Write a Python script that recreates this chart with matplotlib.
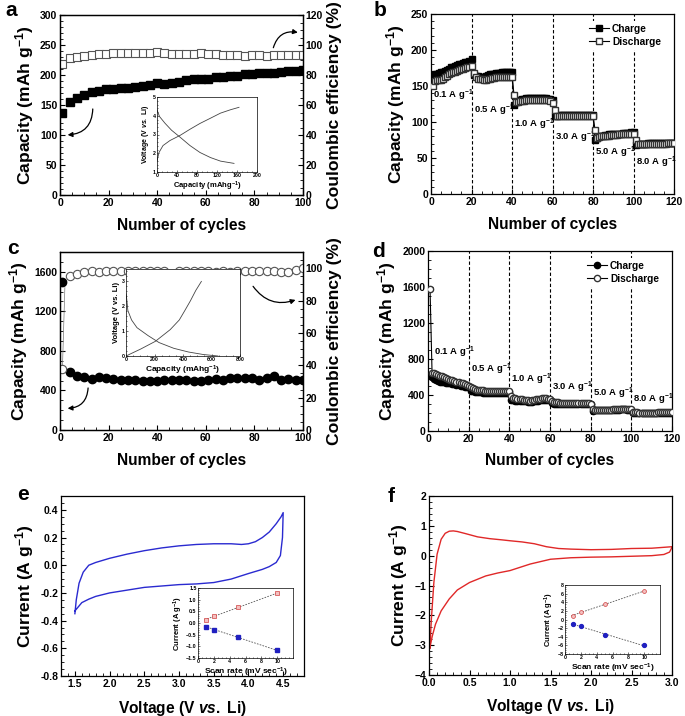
import numpy as np
import matplotlib
matplotlib.use("Agg")
import matplotlib.pyplot as plt

plt.rcParams['font.family'] = ['Liberation Sans', 'DejaVu Sans']
plt.rcParams['font.weight'] = 'bold'
plt.rcParams['axes.labelweight'] = 'bold'
plt.rcParams['mathtext.fontset'] = 'custom'
plt.rcParams['mathtext.rm'] = 'Liberation Sans:bold'
plt.rcParams['mathtext.bf'] = 'Liberation Sans:bold'
plt.rcParams['mathtext.it'] = 'Liberation Sans:bold:italic'
plt.rcParams['mathtext.default'] = 'bf'
plt.rcParams['xtick.direction'] = 'in'
plt.rcParams['ytick.direction'] = 'in'
plt.rcParams['axes.linewidth'] = 0.9

# ---- panel a : cathode cycling
cyc_a = np.arange(1, 101, 3)
cap_a = [137, 155, 162, 167, 171, 174, 176, 177, 178, 179, 180, 182, 184, 186, 185, 187, 189,
         192, 193, 193, 193, 196, 197, 198, 198, 201, 201, 203, 203, 204, 205, 206, 206, 209]
ce_a = [87.3, 91.5, 92, 92.8, 93.5, 94, 94.3, 94.5, 94.7, 94.7, 94.7, 94.5, 94.5, 95.2, 94.7, 94.2,
        94.2, 94.0, 94.0, 94.8, 94.0, 93.7, 93.5, 93.3, 93.2, 93.0, 93.2, 93.2, 93.0, 93.5, 93.5,
        93.5, 93.3, 93.2]
ins_a_dis_x = [0, 5, 16, 29, 46, 66, 86, 107, 127, 154]
ins_a_dis_y = [4.32, 3.96, 3.6, 3.23, 2.86, 2.41, 2.04, 1.77, 1.58, 1.46]
ins_a_chg_x = [0, 4, 12, 26, 46, 66, 86, 107, 127, 147, 164]
ins_a_chg_y = [1.58, 2.04, 2.41, 2.68, 2.95, 3.28, 3.59, 3.87, 4.14, 4.32, 4.45]

# ---- panel b : cathode rate
cyc_b = np.arange(1, 121)
chg_b = [165, 166, 167, 168, 169, 170, 171, 172, 174, 176, 177, 178, 179, 180, 181, 182, 183, 184, 185, 187,
         165, 164, 164, 163, 163, 163, 164, 165, 166, 167, 167, 168, 168, 168, 169, 169, 169, 170, 170, 170,
         124, 128, 130, 131, 132, 132, 133, 133, 133, 133, 133, 133, 133, 133, 133, 133, 133, 132, 132, 131,
         108, 109, 110, 110, 110, 110, 110, 110, 110, 110, 110, 110, 110, 110, 110, 110, 110, 110, 110, 110,
         75, 78, 80, 81, 81, 82, 82, 83, 83, 83, 84, 84, 84, 84, 85, 85, 85, 85, 86, 86,
         68, 70, 70, 70, 70, 70, 71, 71, 71, 71, 71, 71, 71, 71, 71, 71, 71, 71, 71, 71]
dis_b = [150, 157, 158, 158, 159, 160, 162, 164, 166, 168, 169, 170, 171, 172, 173, 174, 175, 176, 177, 178,
         168, 162, 160, 160, 160, 159, 159, 160, 160, 161, 161, 162, 162, 162, 163, 163, 163, 163, 163, 163,
         138, 128, 128, 129, 129, 129, 130, 130, 130, 130, 130, 130, 130, 130, 130, 130, 130, 130, 129, 127,
         116, 108, 108, 108, 108, 108, 108, 108, 108, 108, 108, 108, 108, 108, 108, 109, 109, 109, 109, 109,
         89, 78, 79, 80, 80, 81, 81, 81, 82, 82, 82, 82, 83, 83, 83, 83, 84, 84, 84, 84,
         75, 69, 69, 69, 69, 69, 69, 70, 70, 70, 70, 70, 70, 70, 70, 70, 71, 71, 71, 71]
rate_labels = ['0.1', '0.5', '1.0', '3.0', '5.0', '8.0']
rate_x = [1, 21, 41, 61, 81, 101]
rate_y_b = [133, 112, 93, 75, 54, 40]

# ---- panel c : anode cycling
cyc_c = np.arange(1, 101, 3)
cap_c = [1500, 590, 550, 540, 520, 535, 525, 520, 505, 510, 505, 500, 495, 495, 505, 510, 510,
         505, 495, 495, 505, 515, 510, 530, 530, 525, 530, 510, 530, 550, 510, 515, 505, 510]
ce_c = [38, 95, 96.5, 97.5, 98, 97.5, 98, 98, 98, 98, 98, 98, 98, 98, 98,
        95.5, 98, 98, 98, 98, 98.5, 97.5, 98, 97.5, 98, 98, 98, 98, 98,
        98, 97.5, 97.5, 99, 100]
ce_c_first_x = [1, 2]
ce_c_first_y = [38, 88]
ins_c_dis_x = [0, 5, 13, 39, 77, 155, 232, 335, 439, 542, 645]
ins_c_dis_y = [2.5, 2.3, 1.83, 1.45, 1.14, 0.82, 0.54, 0.31, 0.16, 0.06, 0.0]
ins_c_chg_x = [0, 103, 206, 310, 374, 413, 452, 490, 529]
ins_c_chg_y = [0.0, 0.28, 0.59, 1.06, 1.45, 1.83, 2.22, 2.64, 3.0]

# ---- panel d : anode rate
cyc_d = np.arange(1, 121)
dis_d = [1580, 640, 650, 630, 620, 615, 610, 600, 590, 580, 570, 565, 560, 550, 540, 535, 530, 520, 515, 500,
         490, 475, 465, 460, 458, 455, 452, 450, 448, 446, 444, 442, 440, 440, 440, 440, 440, 442, 445, 450,
         390, 370, 362, 358, 355, 352, 350, 345, 340, 338, 340, 348, 355, 358, 360, 362, 362, 362, 360, 355,
         330, 322, 320, 318, 316, 315, 315, 315, 315, 315, 315, 314, 314, 313, 312, 312, 311, 310, 308, 305,
         250, 235, 232, 232, 233, 234, 235, 236, 237, 238, 239, 240, 241, 242, 243, 244, 244, 243, 242, 240,
         215, 208, 206, 205, 205, 205, 205, 205, 205, 205, 205, 205, 206, 206, 206, 206, 207, 207, 208, 208]
chg_d = [610, 600, 580, 565, 555, 548, 545, 542, 538, 533, 528, 522, 517, 512, 507, 502, 498, 494, 490, 487,
         450, 440, 435, 432, 430, 428, 426, 424, 422, 420, 420, 420, 420, 420, 420, 420, 420, 422, 425, 430,
         350, 342, 338, 335, 333, 332, 330, 328, 326, 325, 326, 330, 335, 338, 340, 342, 343, 343, 342, 340,
         310, 305, 304, 303, 302, 302, 302, 302, 302, 302, 302, 301, 301, 300, 300, 300, 299, 299, 298, 297,
         225, 228, 228, 229, 230, 231, 232, 233, 234, 235, 236, 237, 238, 238, 239, 239, 239, 238, 237, 236,
         205, 203, 202, 202, 202, 202, 202, 202, 202, 202, 202, 202, 203, 203, 203, 203, 204, 204, 205, 205]
rate_x_d = [3, 21, 41, 61, 81, 101]
rate_y_d = [840, 650, 540, 450, 390, 320]

# ---- panel e : cathode CV
cv_e_v = [1.5, 1.52, 1.56, 1.62, 1.7, 1.8, 2.0, 2.25, 2.5, 2.75, 3.0, 3.25, 3.5, 3.75, 3.9, 4.0, 4.1,
          4.2, 4.3, 4.4, 4.47, 4.5,
          4.5, 4.49, 4.46, 4.4, 4.3, 4.2, 4.0, 3.75, 3.5, 3.25, 3.0, 2.75, 2.5, 2.25, 2.0, 1.8, 1.7,
          1.6, 1.55, 1.5]
cv_e_i = [-0.35, -0.25, -0.13, -0.05, 0.0, 0.02, 0.05, 0.08, 0.105, 0.125, 0.14, 0.15, 0.155, 0.155,
          0.15, 0.155, 0.17, 0.2, 0.24, 0.3, 0.35, 0.38,
          0.38, 0.2, 0.07, 0.02, -0.01, -0.03, -0.06, -0.1, -0.125, -0.135, -0.14, -0.15, -0.16, -0.18,
          -0.2, -0.225, -0.245, -0.27, -0.3, -0.33]
scan = [1, 2, 5, 10]
peak_e_ox = [0.13, 0.3, 0.68, 1.27]
peak_e_red = [-0.15, -0.28, -0.62, -1.17]

# ---- panel f : anode CV
cv_f_v = [0.01, 0.03, 0.06, 0.1, 0.15, 0.2, 0.25, 0.3, 0.35, 0.45, 0.6, 0.75, 0.9, 1.0, 1.15, 1.3,
          1.45, 1.6, 1.75, 2.0, 2.25, 2.5, 2.75, 2.9, 3.0,
          3.0, 2.97, 2.9, 2.75, 2.5, 2.25, 2.0, 1.75, 1.5, 1.25, 1.0, 0.85, 0.7, 0.5, 0.35, 0.25,
          0.15, 0.08, 0.04, 0.01]
cv_f_i = [-3.1, -2.1, -0.9, 0.05, 0.55, 0.75, 0.82, 0.83, 0.81, 0.74, 0.63, 0.57, 0.53, 0.5, 0.46,
          0.4, 0.3, 0.24, 0.22, 0.2, 0.21, 0.24, 0.25, 0.28, 0.3,
          0.28, 0.12, 0.04, 0.0, -0.02, -0.04, -0.05, -0.07, -0.12, -0.28, -0.5, -0.58, -0.68, -0.9,
          -1.15, -1.45, -1.85, -2.3, -2.7, -3.1]
peak_f_ox = [0.8, 1.7, 3.7, 6.5]
peak_f_red = [-1.0, -1.6, -3.6, -6.0]

W, H = 685, 716


def box(l, t, r, b):
    return [l / W, 1 - b / H, (r - l) / W, (b - t) / H]


def style(ax, size=7.5):
    ax.minorticks_on()
    ax.tick_params(which='both', top=False, right=False, labelsize=size, pad=2)
    ax.tick_params(which='major', length=3.5, width=0.8)
    ax.tick_params(which='minor', length=2, width=0.6)


def style_right(ax2):
    ax2.minorticks_on()
    ax2.tick_params(which='both', labelsize=7.5, pad=2, direction='in')
    ax2.tick_params(which='major', length=3.5, width=0.8)
    ax2.tick_params(which='minor', length=2, width=0.6)


def style_inset(ax):
    ax.minorticks_on()
    ax.tick_params(which='both', labelsize=3.8, pad=1, length=1.5, width=0.4)
    ax.tick_params(which='minor', length=0.8)
    for s in ax.spines.values():
        s.set_linewidth(0.5)


def arrow(ax, tip, tail, rad):
    ax.annotate('', xy=tip, xytext=tail,
                arrowprops=dict(arrowstyle='-|>', color='black', lw=0.9, mutation_scale=7,
                                connectionstyle=f'arc3,rad={rad}'))


fig = plt.figure(figsize=(W / 100, H / 100), dpi=100)
xl = 11.2
yl = 12.6
cap_label = r'Capacity (mAh g$^{-1}$)'
cur_label = r'Current (A g$^{-1}$)'
volt_label = r'Voltage (V $\it{vs.}$ Li)'

# ===== a
ax = fig.add_axes(box(60, 15, 303, 195))
ax.plot(cyc_a, cap_a, 's', color='black', ms=6)
ax.set_xlim(0, 100)
ax.set_ylim(0, 300)
ax.set_xticks(range(0, 101, 20))
ax.set_yticks(range(0, 301, 50))
style(ax)
ax.set_xlabel('Number of cycles', fontsize=xl, labelpad=7)
ax.set_ylabel(cap_label, fontsize=yl, labelpad=3)
ax2 = ax.twinx()
ax2.plot(cyc_a, ce_a, 's', mfc='white', mec='#555555', mew=0.8, ms=6)
ax2.set_ylim(0, 120)
ax2.set_yticks(range(0, 121, 20))
style_right(ax2)
ax2.set_ylabel('Coulombic efficiency (%)', fontsize=yl, labelpad=3)
arrow(ax, (2, 100), (13.5, 148), -0.5)
arrow(ax, (99, 270), (87.5, 241), -0.5)
fig.text(5 / W, 1 - 16 / H, 'a', fontsize=15, fontweight='bold')

ia = fig.add_axes(box(157, 97, 257, 172))
ia.plot(ins_a_dis_x, ins_a_dis_y, color='#444444', lw=0.6)
ia.plot(ins_a_chg_x, ins_a_chg_y, color='#444444', lw=0.6)
ia.set_xlim(0, 200)
ia.set_ylim(1, 5)
ia.set_xticks(range(0, 201, 40))
ia.set_yticks(range(1, 6))
style_inset(ia)
ia.set_xlabel(r'Capacity (mAhg$^{-1}$)', fontsize=5.5, labelpad=1)
ia.set_ylabel(volt_label, fontsize=5, labelpad=1)

# ===== b
ax = fig.add_axes(box(431, 14, 674, 194))
for xv in [20, 40, 60, 80, 100]:
    ax.axvline(xv, color='black', ls=(0, (3, 2)), lw=0.8, zorder=1)
ax.plot(cyc_b, chg_b, '-s', color='black', ms=4.5, lw=0.8, label='Charge', zorder=3)
ax.plot(cyc_b, dis_b, '-s', color='black', mfc='white', mec='#333333', ms=4.5, lw=0.8,
        label='Discharge', zorder=4)
for t, xv, yv in zip(rate_labels, rate_x, rate_y_b):
    ax.text(xv, yv, t + r' A g$^{-1}$', fontsize=6.8, fontweight='bold')
ax.set_xlim(0, 120)
ax.set_ylim(0, 250)
ax.set_xticks(range(0, 121, 20))
ax.set_yticks(range(0, 251, 50))
style(ax)
leg = ax.legend(loc='upper right', fontsize=7.3, frameon=True, handlelength=2, borderpad=0.3,
                labelspacing=0.3, handletextpad=0.3, bbox_to_anchor=(0.98, 0.99))
leg.get_frame().set_edgecolor('none')
leg.get_frame().set_alpha(1)
ax.set_xlabel('Number of cycles', fontsize=xl, labelpad=7)
ax.set_ylabel(cap_label, fontsize=yl, labelpad=3)
fig.text(374 / W, 1 - 16 / H, 'b', fontsize=15, fontweight='bold')

# ===== c
ax = fig.add_axes(box(60, 252, 303, 430))
ax.plot(cyc_c, cap_c, 'o', color='black', ms=6)
ax.set_xlim(0, 100)
ax.set_ylim(0, 1800)
ax.set_xticks(range(0, 101, 20))
ax.set_yticks(range(0, 1601, 400))
style(ax)
ax.set_xlabel('Number of cycles', fontsize=xl, labelpad=7)
ax.set_ylabel(cap_label, fontsize=yl, labelpad=3)
ax2 = ax.twinx()
ax2.plot(ce_c_first_x, ce_c_first_y, color='#777777', lw=0.5)
ax2.plot(cyc_c, ce_c, 'o', mfc='white', mec='#555555', mew=0.8, ms=6)
ax2.set_ylim(0, 110)
ax2.set_yticks(range(0, 101, 20))
style_right(ax2)
ax2.set_ylabel('Coulombic efficiency (%)', fontsize=yl, labelpad=3)
arrow(ax, (2, 218), (11.6, 453), -0.5)
arrow(ax, (98, 1325), (78.8, 1476), 0.4)
fig.text(7 / W, 1 - 254 / H, 'c', fontsize=15, fontweight='bold')

ic = fig.add_axes(box(126, 269, 240, 356))
ic.plot(ins_c_dis_x, ins_c_dis_y, color='#444444', lw=0.6)
ic.plot(ins_c_chg_x, ins_c_chg_y, color='#444444', lw=0.6)
ic.set_xlim(0, 800)
ic.set_ylim(0, 3.5)
ic.set_xticks(range(0, 801, 200))
ic.set_yticks(range(0, 4))
style_inset(ic)
ic.set_xlabel(r'Capacity (mAhg$^{-1}$)', fontsize=6, labelpad=1)
ic.set_ylabel('Voltage (V vs. Li)', fontsize=5.5, labelpad=1)

# ===== d
ax = fig.add_axes(box(428, 251, 672, 431))
for xv in [20, 40, 60, 80, 100]:
    ax.axvline(xv, color='black', ls=(0, (3, 2)), lw=0.8, zorder=1)
ax.plot(cyc_d, chg_d, '-o', color='black', ms=4.5, lw=0.8, label='Charge', zorder=3)
ax.plot(cyc_d, dis_d, '-o', color='black', mfc='white', mec='#333333', ms=4.5, lw=0.8,
        label='Discharge', zorder=4)
for t, xv, yv in zip(rate_labels, rate_x_d, rate_y_d):
    ax.text(xv, yv, t + r' A g$^{-1}$', fontsize=6.8, fontweight='bold')
ax.set_xlim(0, 120)
ax.set_ylim(0, 2000)
ax.set_xticks(range(0, 121, 20))
ax.set_yticks(range(0, 2001, 400))
style(ax)
leg = ax.legend(loc='upper right', fontsize=7.3, frameon=True, handlelength=2, borderpad=0.3,
                labelspacing=0.3, handletextpad=0.3, bbox_to_anchor=(0.98, 0.99))
leg.get_frame().set_edgecolor('none')
leg.get_frame().set_alpha(1)
ax.set_xlabel('Number of cycles', fontsize=xl, labelpad=7)
ax.set_ylabel(cap_label, fontsize=yl, labelpad=3)
fig.text(372 / W, 1 - 257 / H, 'd', fontsize=15, fontweight='bold')

# ===== e
ax = fig.add_axes(box(61, 496, 304, 676))
ax.plot(cv_e_v, cv_e_i, color='#2a2ad0', lw=1.0)
ax.set_xlim(1.3, 4.8)
ax.set_ylim(-0.8, 0.5)
ax.set_xticks(np.arange(1.5, 4.6, 0.5))
e_ticks = np.round(np.arange(-0.8, 0.41, 0.2), 1)
ax.set_yticks(e_ticks)
ax.set_yticklabels([f'{v:.1f}' for v in e_ticks + 0.0])
style(ax)
ax.set_xlabel(volt_label, fontsize=xl, labelpad=7)
ax.set_ylabel(cur_label, fontsize=yl, labelpad=3)
fig.text(17 / W, 1 - 500 / H, 'e', fontsize=15, fontweight='bold')

ie = fig.add_axes(box(198, 588, 293, 658))
sx = np.array(scan)
for vals in (peak_e_ox, peak_e_red):
    k, b0 = np.polyfit(sx, vals, 1)
    ie.plot([0.8, 10], [k * 0.8 + b0, k * 10 + b0], ls=(0, (2, 1.5)), color='#555555', lw=0.6)
ie.plot(scan, peak_e_ox, 's', mfc='#f4c0c0', mec='#d04040', ms=2.5, mew=0.5)
ie.plot(scan, peak_e_red, 's', color='#2020c0', ms=2.5)
ie.set_xlim(0, 12)
ie.set_ylim(-1.5, 1.5)
ie.set_xticks(range(0, 11, 2))
ie.set_yticks(np.arange(-1.5, 1.6, 0.5))
style_inset(ie)
ie.set_xlabel(r'Scan rate (mV sec$^{-1}$)', fontsize=6, labelpad=1)
ie.set_ylabel(cur_label, fontsize=5.5, labelpad=1)

# ===== f
ax = fig.add_axes(box(429, 496, 672, 675))
ax.plot(cv_f_v, cv_f_i, color='#e02828', lw=1.0)
ax.set_xlim(0, 3)
ax.set_ylim(-4, 2)
ax.set_xticks(np.arange(0, 3.1, 0.5))
ax.set_yticks(range(-4, 3))
style(ax)
ax.set_xlabel(volt_label, fontsize=xl, labelpad=7)
ax.set_ylabel(cur_label, fontsize=yl, labelpad=3)
fig.text(388 / W, 1 - 502 / H, 'f', fontsize=15, fontweight='bold')

iff = fig.add_axes(box(565, 585, 660, 654))
for vals in (peak_f_ox, peak_f_red):
    k, b0 = np.polyfit(sx, vals, 1)
    iff.plot([0.8, 10], [k * 0.8 + b0, k * 10 + b0], ls=(0, (2, 1.5)), color='#555555', lw=0.6)
iff.plot(scan, peak_f_ox, 'o', mfc='#f4c0c0', mec='#d04040', ms=2.8, mew=0.5)
iff.plot(scan, peak_f_red, 'o', color='#2020c0', ms=2.8)
iff.set_xlim(0, 12)
iff.set_ylim(-8, 8)
iff.set_xticks(range(0, 11, 2))
iff.set_yticks(range(-8, 9, 2))
style_inset(iff)
iff.set_xlabel(r'Scan rate (mV sec$^{-1}$)', fontsize=6, labelpad=1)
iff.set_ylabel(cur_label, fontsize=5.5, labelpad=1)

fig.savefig('out.png', dpi=100)
